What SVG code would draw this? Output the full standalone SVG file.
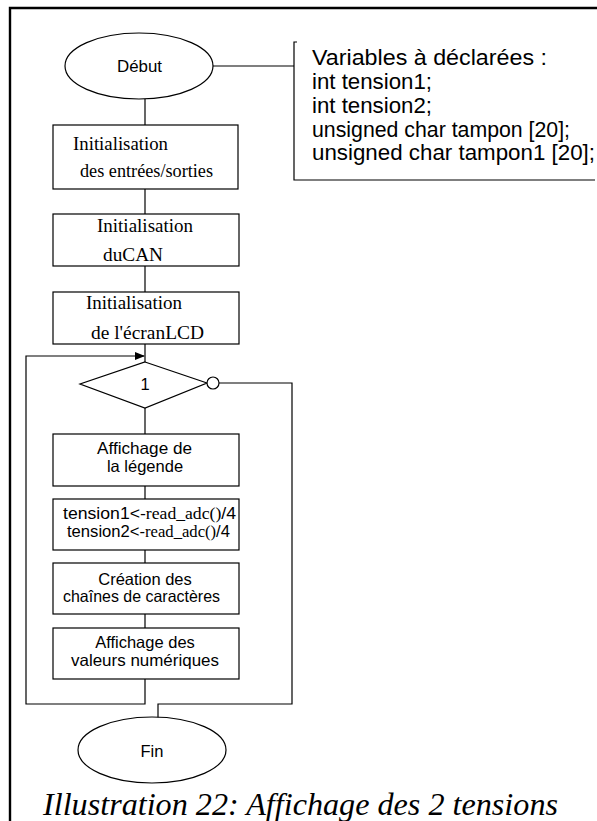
<svg xmlns="http://www.w3.org/2000/svg" width="597" height="821" viewBox="0 0 597 821">
  <style>
    .shape { fill: #ffffff; stroke: #000000; stroke-width: 1.2; }
    .wire { fill: none; stroke: #000000; stroke-width: 1.2; }
    .sans { font-family: "Liberation Sans", Arial, sans-serif; font-size: 16.5px; fill: #000; }
    .serif { font-family: "Liberation Serif", "Times New Roman", serif; font-size: 18px; fill: #000; }
    .decl { font-family: "Liberation Sans", Arial, sans-serif; font-size: 22px; fill: #000; }
    .caption { font-family: "Liberation Serif", "Times New Roman", serif; font-style: italic; font-size: 32px; fill: #000; }
  </style>
  <defs>
    <marker id="arrow" markerWidth="10" markerHeight="8" refX="9" refY="4" orient="auto" markerUnits="userSpaceOnUse">
      <path d="M0,0 L10,4 L0,8 Z" fill="#000"/>
    </marker>
  </defs>

  <rect width="597" height="821" fill="#ffffff"/>

  <!-- page frame -->
  <path d="M10,821 V8 H597" fill="none" stroke="#000" stroke-width="2.4"/>

  <!-- connectors -->
  <g id="connectors" class="wire">
    <line x1="145" y1="99" x2="145" y2="125"/>
    <line x1="145" y1="189" x2="145" y2="214"/>
    <line x1="145" y1="266" x2="145" y2="292"/>
    <line x1="145" y1="344" x2="145" y2="362"/>
    <line x1="145" y1="408" x2="145" y2="434"/>
    <line x1="145" y1="486" x2="145" y2="499"/>
    <line x1="145" y1="550" x2="145" y2="563"/>
    <line x1="145" y1="614" x2="145" y2="628"/>
    <!-- loop back to the test -->
    <path d="M145,679 V704 H26 V356 H144" marker-end="url(#arrow)"/>
    <!-- exit of the loop -->
    <path d="M219,383 H292 V704 H158 V718"/>
    <!-- link to the declarations note -->
    <line x1="213" y1="66" x2="294" y2="66"/>
    <path d="M297,42 H294 V180 H595"/>
  </g>

  <g id="note">
    <text class="decl" x="312" y="65" textLength="235" lengthAdjust="spacingAndGlyphs">Variables à déclarées :</text>
    <text class="decl" x="312" y="89" textLength="120" lengthAdjust="spacingAndGlyphs">int tension1;</text>
    <text class="decl" x="312" y="113" textLength="120" lengthAdjust="spacingAndGlyphs">int tension2;</text>
    <text class="decl" x="312" y="137" textLength="258" lengthAdjust="spacingAndGlyphs">unsigned char tampon [20];</text>
    <text class="decl" x="312" y="160" textLength="283" lengthAdjust="spacingAndGlyphs">unsigned char tampon1 [20];</text>
  </g>

  <g id="debut">
    <ellipse class="shape" cx="139" cy="66" rx="74" ry="33"/>
    <text class="sans" x="117" y="72" textLength="45" lengthAdjust="spacingAndGlyphs">Début</text>
  </g>

  <g id="init-io">
    <rect class="shape" x="53" y="125" width="185" height="64"/>
    <text class="serif" x="73" y="150" textLength="95" lengthAdjust="spacingAndGlyphs">Initialisation</text>
    <text class="serif" x="80" y="177" textLength="133" lengthAdjust="spacingAndGlyphs">des entrées/sorties</text>
  </g>

  <g id="init-can">
    <rect class="shape" x="53" y="214" width="186" height="52"/>
    <text class="serif" x="97" y="232" textLength="96" lengthAdjust="spacingAndGlyphs">Initialisation</text>
    <text class="serif" x="103" y="261" textLength="60" lengthAdjust="spacingAndGlyphs">duCAN</text>
  </g>

  <g id="init-lcd">
    <rect class="shape" x="53" y="292" width="186" height="52"/>
    <text class="serif" x="86" y="309" textLength="96" lengthAdjust="spacingAndGlyphs">Initialisation</text>
    <text class="serif" x="91" y="339" textLength="113" lengthAdjust="spacingAndGlyphs">de l'écranLCD</text>
  </g>

  <g id="test">
    <polygon class="shape" points="145,362 207,383 145,408 80,384"/>
    <circle class="shape" cx="213" cy="383" r="6"/>
    <text class="sans" x="145" y="390" text-anchor="middle">1</text>
  </g>

  <g id="legende">
    <rect class="shape" x="53" y="434" width="186" height="52"/>
    <text class="sans" x="97" y="454" textLength="95" lengthAdjust="spacingAndGlyphs">Affichage de</text>
    <text class="sans" x="145" y="472" text-anchor="middle">la légende</text>
  </g>

  <g id="lecture">
    <rect class="shape" x="53" y="499" width="186" height="51"/>
    <text class="sans" x="63" y="519" textLength="173" lengthAdjust="spacingAndGlyphs">tension1&lt;-<tspan font-family="Liberation Serif, serif">read_adc()</tspan>/4</text>
    <text class="sans" x="67" y="537" textLength="163" lengthAdjust="spacingAndGlyphs">tension2&lt;-<tspan font-family="Liberation Serif, serif">read_adc()</tspan>/4</text>
  </g>

  <g id="chaines">
    <rect class="shape" x="53" y="563" width="186" height="51"/>
    <text class="sans" x="145" y="585" text-anchor="middle">Création des</text>
    <text class="sans" x="63" y="602" textLength="157" lengthAdjust="spacingAndGlyphs">chaînes de caractères</text>
  </g>

  <g id="valeurs">
    <rect class="shape" x="53" y="628" width="186" height="51"/>
    <text class="sans" x="145" y="648" text-anchor="middle">Affichage des</text>
    <text class="sans" x="71" y="666" textLength="148" lengthAdjust="spacingAndGlyphs">valeurs numériques</text>
  </g>

  <g id="fin">
    <ellipse class="shape" cx="152" cy="750" rx="74" ry="33"/>
    <text class="sans" x="152" y="757" text-anchor="middle">Fin</text>
  </g>

  <text class="caption" x="43" y="815" textLength="515" lengthAdjust="spacingAndGlyphs">Illustration 22: Affichage des 2 tensions</text>
</svg>
